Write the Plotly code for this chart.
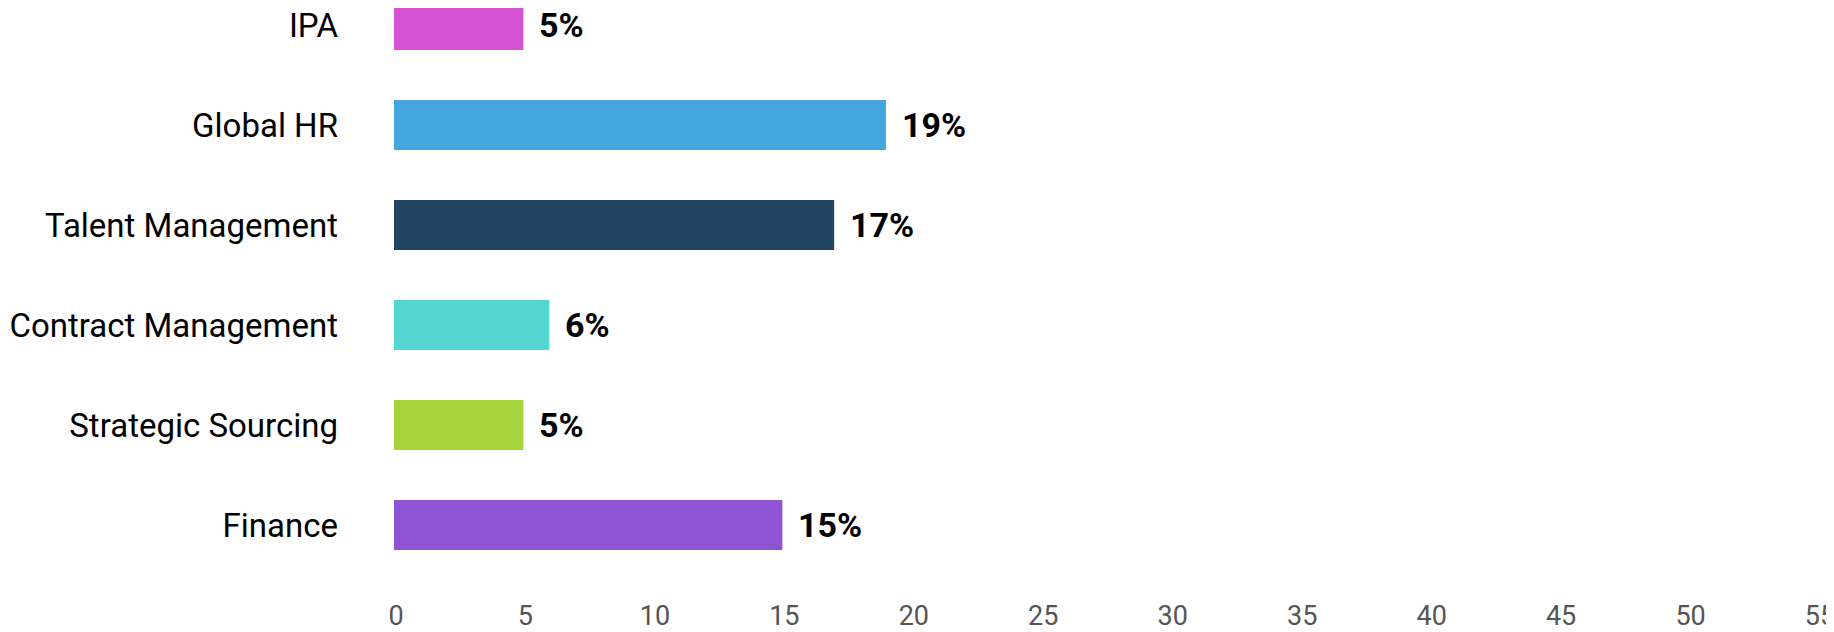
import plotly.graph_objects as go

categories = ["IPA", "Global HR", "Talent Management", "Contract Management",
              "Strategic Sourcing", "Finance"]
values = [5, 19, 17, 6, 5, 15]
colors = ["#D552D3", "#45A5DF", "#214462", "#53D6D1", "#A6D33B", "#8E54D4"]
x_ticks = [0, 5, 10, 15, 20, 25, 30, 35, 40, 45, 50, 55]

fig = go.Figure()
fig.add_trace(go.Bar(
    x=values,
    y=categories,
    orientation="h",
    width=0.5,
    marker=dict(color=colors, line=dict(width=0)),
    hoverinfo="x+y",
))

# value labels to the right of each bar
for cat, val in zip(categories, values):
    fig.add_annotation(
        x=val, y=cat, text=f"<b>{val}%</b>",
        showarrow=False, xanchor="left", yanchor="middle", xshift=14,
        font=dict(family="Roboto", size=34, color="#000000"),
    )

# page body adds an 8px offset, so the figure is a bit smaller than the window
fig.update_layout(
    width=1826,
    height=624,
    margin=dict(l=386, r=16, t=0, b=35),
    paper_bgcolor="white",
    plot_bgcolor="white",
    showlegend=False,
    font=dict(family="Roboto"),
    xaxis=dict(
        range=[0, 55],
        tickvals=x_ticks,
        showgrid=False,
        zeroline=False,
        showline=False,
        ticklabelshift=2,
        ticklabeloverflow="allow",
        tickfont=dict(size=27, color="#555555"),
        automargin=False,
    ),
    yaxis=dict(
        categoryorder="array",
        categoryarray=categories,
        range=[5.72, -0.17],
        showgrid=False,
        zeroline=False,
        showline=False,
        ticklabelstandoff=55,
        tickfont=dict(size=33, color="#000000"),
        automargin=False,
    ),
)

fig.write_html("out.html")
